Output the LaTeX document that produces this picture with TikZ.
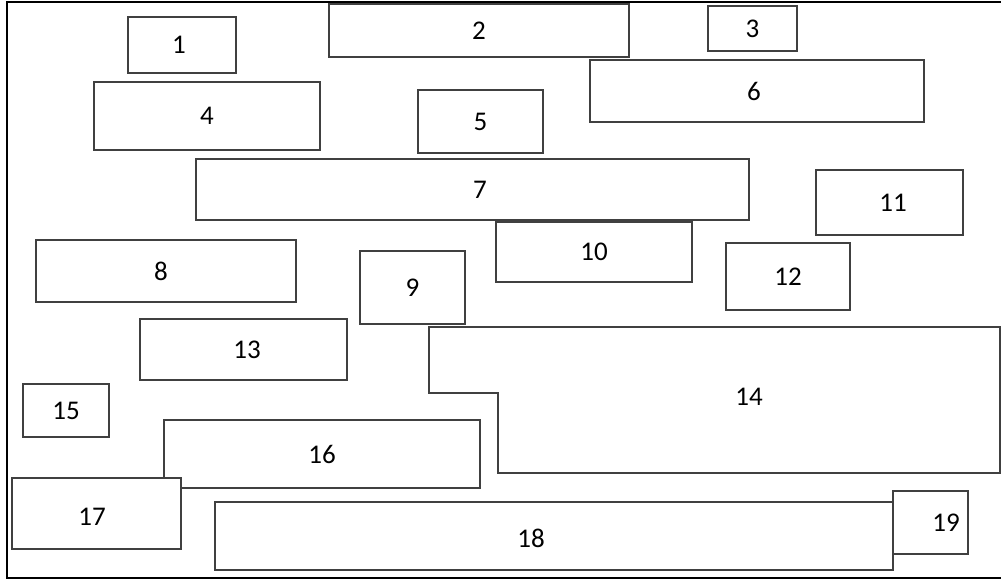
\documentclass[tikz,border=0pt]{standalone}
\usepackage{fontspec}
\setmainfont{Carlito}
\usetikzlibrary{positioning}
\definecolor{BoxLine}{HTML}{404040}
\tikzset{
  numfont/.style={font=\fontsize{27}{32}\selectfont},
  numbox/.style={rectangle, draw=BoxLine, fill=white, line width=1.2pt,
                 inner sep=0pt, numfont},
  sz/.style n args={2}{minimum width=#1pt, minimum height=#2pt},
}

\begin{document}
\begin{tikzpicture}[x=1pt, y=-1pt]
  \useasboundingbox (0,0) rectangle (1001,581);
  % outer frame
  \draw[line width=2.6pt, black] (1001,2) -- (7,2) -- (7,578) -- (1001,578);
  % top row
  \node[numbox, sz={108}{56}, label={[numfont, xshift=-3pt]center:1}] (b1) at (182,45) {};
  \node[numbox, sz={300}{53}] (b2) at (479,30.5) {2};
  \node[numbox, sz={89}{45}] (b3) at (752.5,28.5) {3};
  \node[numbox, sz={226}{68}] (b4) at (207,116) {4};
  \node[numbox, sz={125}{63}] (b5) at (480.5,121.5) {5};
  \node[numbox, sz={334}{62}, label={[numfont, xshift=-3pt]center:6}] (b6) at (757,91) {};
  \node[numbox, sz={553}{61}, label={[numfont, xshift=7.5pt]center:7}] (b7) at (472.5,189.5) {};
  % middle
  \node[numbox, sz={260}{62}, label={[numfont, xshift=-5pt]center:8}] (b8) at (166,271) {};
  \node[numbox, sz={105}{73}] (b9) at (412.5,287.5) {9};
  \node[numbox, sz={196}{60}] (b10) at (594,252) {10};
  \node[numbox, sz={147}{65}, label={[numfont, xshift=3.5pt]center:11}] (b11) at (889.5,202.5) {};
  \node[numbox, sz={124}{67}] (b12) at (788,276.5) {12};
  \node[numbox, sz={207}{61}, label={[numfont, xshift=3.5pt]center:13}] (b13) at (243.5,349.5) {};
  % stepped box
  \draw[BoxLine, line width=1.2pt, fill=white]
    (429,327) -- (1000,327) -- (1000,473) -- (498,473) -- (498,393) -- (429,393) -- cycle;
  \node[numfont] (b14) at (749,397) {14};
  % bottom
  \node[numbox, sz={86}{53}] (b15) at (66,410.5) {15};
  \node[numbox, sz={316}{68}] (b16) at (322,454) {16};
  \node[numbox, sz={169}{71}, label={[numfont, xshift=-4.5pt, yshift=-3.5pt]center:17}] (b17) at (96.5,513.5) {};
  \node[numbox, sz={678}{68}, label={[numfont, xshift=-23pt, yshift=-2pt]center:18}] (b18) at (554,536) {};
  \node[numbox, sz={75}{63}, label={[numfont, xshift=15.5pt]center:19}] (b19) at (930.5,522.5) {};
\end{tikzpicture}
\end{document}
